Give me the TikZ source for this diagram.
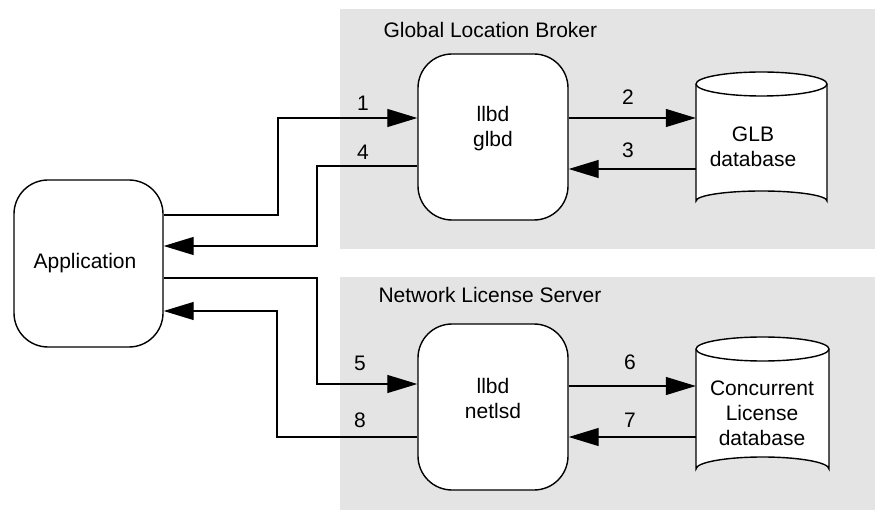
\documentclass[tikz,border=0pt]{standalone}
\usepackage{fontspec}
\setmainfont{Liberation Sans}
\usetikzlibrary{arrows.meta}
\definecolor{panel}{RGB}{228,228,228}
\tikzset{
  proc/.style={draw, line width=1.4pt, fill=white, rounded corners=34pt, inner sep=0pt},
  dbarea/.style={inner sep=0pt},
  flow/.style={line width=1.2pt, -{Triangle[length=30pt,width=18pt]}},
  num/.style={font=\fontsize{21}{25}\selectfont},
  paneltitle/.style={font=\fontsize{21}{25}\selectfont, anchor=west},
  txt/.style={font=\fontsize{21}{25}\selectfont, align=center},
  cyl/.style={line width=1.4pt, fill=white}
}
\begin{document}
\begin{tikzpicture}[x=1pt,y=-1pt]
\useasboundingbox (0,0) rectangle (875,510);
% panels
\fill[panel] (340,9) rectangle (875,249);
\fill[panel] (340,277) rectangle (875,510);
\node[paneltitle] (t1) at (380,30) {Global Location Broker};
\node[paneltitle] (t2) at (375,295) {Network License Server};

% process boxes
\node[proc, minimum width=149pt, minimum height=167pt] (app) at (88.5,263.5) {};
\node[txt] (applbl) at (85,263) {Application};
\node[proc, minimum width=150pt, minimum height=166pt] (glb) at (493,137) {};
\node[txt] (glblbl) at (493,129) {llbd\\glbd};
\node[proc, minimum width=150pt, minimum height=166pt] (nls) at (493,407) {};
\node[txt] (nlslbl) at (493,398) {llbd\\netlsd};

% database cylinders
\draw[cyl] (696,84) arc[start angle=180, end angle=360, x radius=65.5, y radius=12]
  -- (827,201) arc[start angle=0, end angle=-180, x radius=65.5, y radius=10] -- cycle;
\draw[line width=1.4pt] (696,84) arc[start angle=180, end angle=0, x radius=65.5, y radius=12];
\node[dbarea, minimum width=131pt, minimum height=138pt] (gdb) at (761.5,141) {};
\node[txt] (gdblbl) at (753,147) {GLB\\database};

\draw[cyl] (696,349) arc[start angle=180, end angle=360, x radius=66.5, y radius=12]
  -- (829,469) arc[start angle=0, end angle=-180, x radius=66.5, y radius=12] -- cycle;
\draw[line width=1.4pt] (696,349) arc[start angle=180, end angle=0, x radius=66.5, y radius=12];
\node[dbarea, minimum width=133pt, minimum height=144pt] (cdb) at (762.5,409) {};
\node[txt] (cdblbl) at (762,413) {Concurrent\\License\\database};

% message flows, upper panel
\coordinate (a1) at (app.east |- 0,215);
\coordinate (g1) at (glb.west |- 0,118);
\draw[flow] (a1) -| (278,118) -- (g1);
\coordinate (g4) at (glb.west |- 0,166);
\coordinate (a4) at (app.east |- 0,246);
\draw[flow] (g4) -| (317,246) -- (a4);
\draw[flow] (glb.east |- 0,118) -- (gdb.west |- 0,118);
\draw[flow] (gdb.west |- 0,169) -- (glb.east |- 0,169);
\node[num] (n1) at (363,103) {1};
\node[num] (n4) at (363,152) {4};
\node[num] (n2) at (628,97) {2};
\node[num] (n3) at (628,150) {3};

% message flows, lower panel
\coordinate (a5) at (app.east |- 0,278);
\coordinate (l5) at (nls.west |- 0,384);
\draw[flow] (a5) -| (317,384) -- (l5);
\coordinate (l8) at (nls.west |- 0,437);
\coordinate (a8) at (app.east |- 0,311);
\draw[flow] (l8) -| (277,311) -- (a8);
\draw[flow] (nls.east |- 0,386) -- (cdb.west |- 0,386);
\draw[flow] (cdb.west |- 0,437) -- (nls.east |- 0,437);
\node[num] (n5) at (360,363) {5};
\node[num] (n8) at (360,420) {8};
\node[num] (n6) at (630,362) {6};
\node[num] (n7) at (630,420) {7};
\end{tikzpicture}
\end{document}
